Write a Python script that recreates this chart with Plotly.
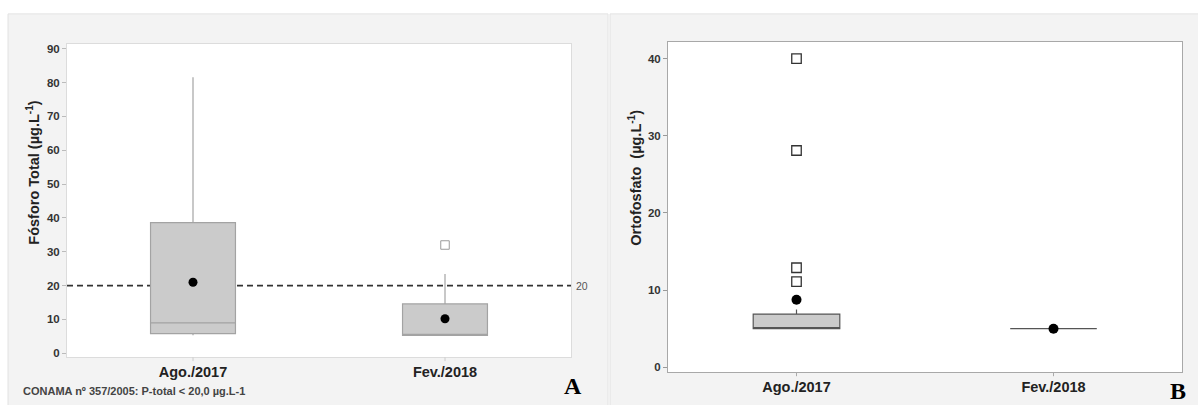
import plotly.graph_objects as go

# --- Fósforo total (panel A) ---
months = ["Ago./2017", "Fev./2018"]
pt_q1 = [5.8, 5.3]
pt_median = [9.0, 5.3]
pt_q3 = [38.6, 14.6]
pt_low = [5.3, 5.3]
pt_high = [81.6, 23.4]
pt_mean = [21.0, 10.2]
pt_outlier_month = ["Fev./2018"]
pt_outliers = [32.0]
pt_limit = 20

# --- Ortofosfato (panel B) ---
of_q1 = [5.0, 5.0]
of_median = [5.0, 5.0]
of_q3 = [6.9, 5.0]
of_low = [5.0, 5.0]
of_high = [7.5, 5.0]
of_mean = [8.75, 5.0]
of_outlier_month = ["Ago./2017"] * 4
of_outliers = [40.0, 28.1, 12.9, 11.1]

W, H = 1198, 405
FONT = "Liberation Sans"


def px(x):
    return x / W


def py(y):
    return 1 - y / H


fig = go.Figure()

# Panel A boxes
fig.add_trace(go.Box(
    x=months, q1=pt_q1, median=pt_median, q3=pt_q3,
    lowerfence=pt_low, upperfence=pt_high,
    width=0.337, whiskerwidth=0, boxpoints=False,
    fillcolor="#cbcbcb", line=dict(color="#a3a3a3", width=1.2),
    xaxis="x", yaxis="y", showlegend=False, hoverinfo="skip",
))
fig.add_trace(go.Scatter(
    x=months, y=pt_mean, mode="markers",
    marker=dict(symbol="circle", size=9, color="black"),
    xaxis="x", yaxis="y", showlegend=False,
))
fig.add_trace(go.Scatter(
    x=pt_outlier_month, y=pt_outliers, mode="markers",
    marker=dict(symbol="square-open", size=8.5, color="#9a9a9a", line=dict(width=1)),
    xaxis="x", yaxis="y", showlegend=False,
))

# Panel B boxes
fig.add_trace(go.Box(
    x=months, q1=of_q1, median=of_median, q3=of_q3,
    lowerfence=of_low, upperfence=of_high,
    width=0.337, whiskerwidth=0, boxpoints=False,
    fillcolor="#cbcbcb", line=dict(color="#555555", width=1.2),
    xaxis="x2", yaxis="y2", showlegend=False, hoverinfo="skip",
))
fig.add_trace(go.Scatter(
    x=months, y=of_mean, mode="markers",
    marker=dict(symbol="circle", size=10, color="black"),
    xaxis="x2", yaxis="y2", showlegend=False,
))
fig.add_trace(go.Scatter(
    x=of_outlier_month, y=of_outliers, mode="markers",
    marker=dict(symbol="square-open", size=9.5, color="#333333", line=dict(width=1.3)),
    xaxis="x2", yaxis="y2", showlegend=False,
))

tickfont = dict(family=FONT, size=11.5, color="#333333", weight="bold")
xtickfont = dict(family=FONT, size=14.5, color="#222222", weight="bold")

common = dict(showgrid=False, zeroline=False, showline=True, mirror=True)

fig.update_layout(
    width=W, height=H,
    margin=dict(l=0, r=0, t=0, b=0),
    paper_bgcolor="white", plot_bgcolor="white",
    xaxis=dict(domain=[px(67), px(571)], anchor="y", type="category",
               range=[-0.5, 1.5], tickfont=xtickfont, linecolor="#dcdcdc",
               ticks="", ticklabelstandoff=1, **common),
    yaxis=dict(domain=[py(359), py(43)], anchor="x", range=[-1.2, 91.5],
               tickvals=list(range(0, 91, 10)), tickfont=tickfont,
               ticks="outside", ticklen=4, tickcolor="#bbbbbb",
               linecolor="#dcdcdc", **common),
    xaxis2=dict(domain=[px(668), px(1182)], anchor="y2", type="category",
                range=[-0.5, 1.5], tickfont=xtickfont, linecolor="#a8a8a8",
                ticks="", ticklabelstandoff=1, **common),
    yaxis2=dict(domain=[py(374), py(41)], anchor="x2", range=[-0.64, 42.2],
                tickvals=[0, 10, 20, 30, 40], tickfont=tickfont,
                ticks="outside", ticklen=4, tickcolor="#999999",
                linecolor="#a8a8a8", **common),
)

# Panel backgrounds
fig.add_shape(type="rect", xref="paper", yref="paper", x0=px(8), x1=px(608),
              y0=-0.01, y1=py(13), fillcolor="#f3f3f3",
              line=dict(color="#e2e2e2", width=1), layer="below")
fig.add_shape(type="rect", xref="paper", yref="paper", x0=px(610), x1=1.01,
              y0=-0.01, y1=py(13), fillcolor="#f3f3f3",
              line=dict(color="#e2e2e2", width=1), layer="below")
fig.add_shape(type="rect", xref="x domain", yref="y domain", x0=0, x1=1, y0=0, y1=1,
              fillcolor="white", line=dict(width=0), layer="below")
fig.add_shape(type="rect", xref="x2 domain", yref="y2 domain", x0=0, x1=1, y0=0, y1=1,
              fillcolor="white", line=dict(width=0), layer="below")

# Short category ticks under each x axis
for m in months:
    fig.add_shape(type="line", xref="x", yref="y domain", x0=m, x1=m,
                  y0=0, y1=-0.012, line=dict(color="#cccccc", width=1))
    fig.add_shape(type="line", xref="x2", yref="y2 domain", x0=m, x1=m,
                  y0=0, y1=-0.012, line=dict(color="#aaaaaa", width=1))

# Reference limit (CONAMA), drawn beneath the boxes
fig.add_shape(type="line", xref="x domain", yref="y", x0=0, x1=1,
              y0=pt_limit, y1=pt_limit, layer="below",
              line=dict(color="#333333", width=1.8, dash="6px,4px"))
fig.add_annotation(xref="x domain", yref="y", x=1.0, y=pt_limit, text=str(pt_limit),
                   showarrow=False, xanchor="left", yanchor="middle", xshift=3,
                   font=dict(family=FONT, size=10.5, color="#555555"))

# Axis titles
fig.add_annotation(xref="paper", yref="paper", x=px(33), y=py(173),
                   xanchor="center", yanchor="middle",
                   text="<b>Fósforo Total (µg.L<sup>-1</sup>)</b>", textangle=-90,
                   showarrow=False, font=dict(family=FONT, size=14.5, color="#222222"))
fig.add_annotation(xref="paper", yref="paper", x=px(635), y=py(178),
                   xanchor="center", yanchor="middle",
                   text="<b>Ortofosfato  (µg.L<sup>-1</sup>)</b>", textangle=-90,
                   showarrow=False, font=dict(family=FONT, size=14.5, color="#222222"))

# Footnote and panel letters
fig.add_annotation(xref="paper", yref="paper", x=px(21), y=py(393),
                   xanchor="left", yanchor="middle",
                   text="<b>CONAMA nº 357/2005: P-total &lt; 20,0 µg.L-1</b>",
                   showarrow=False,
                   font=dict(family=FONT, size=11, color="#444444"))
fig.add_annotation(xref="paper", yref="paper", x=px(573), y=py(388),
                   xanchor="center", yanchor="middle",
                   text="<b>A</b>", showarrow=False,
                   font=dict(family="Liberation Serif", size=24, color="black"))
fig.add_annotation(xref="paper", yref="paper", x=px(1178), y=py(393),
                   xanchor="center", yanchor="middle",
                   text="<b>B</b>", showarrow=False,
                   font=dict(family="Liberation Serif", size=24, color="black"))

fig.write_html("out.html")
